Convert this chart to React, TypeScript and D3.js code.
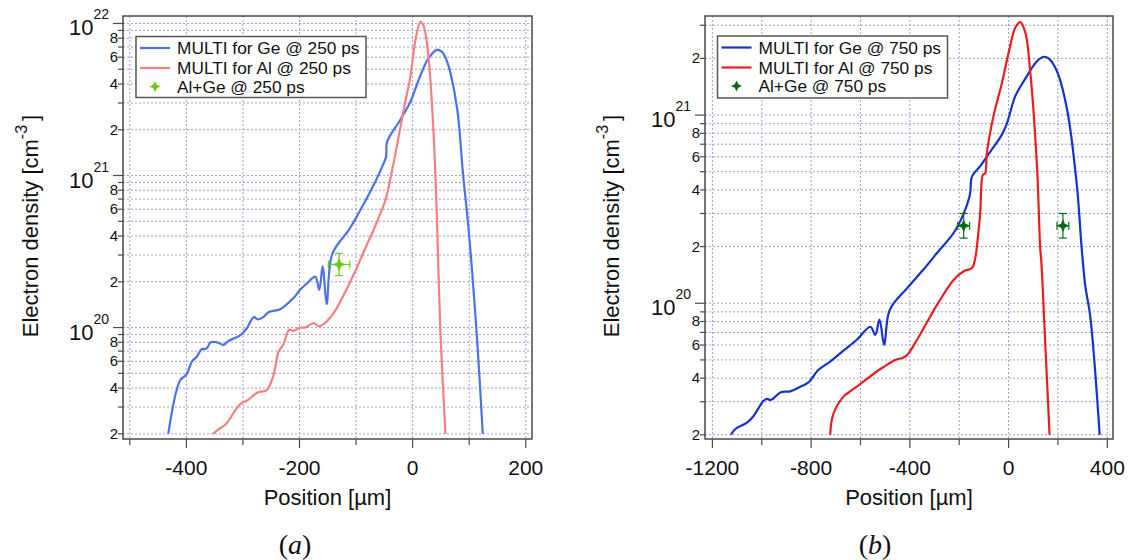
import React from "react";
import * as d3 from "d3";

// ---------- DATA ----------
// Panel (a) 250 ps
const geA_pos = [-432, -411, -400, -390, -382, -373, -364, -357, -346, -334, -326, -305, -293, -281, -273, -264, -255, -234, -211, -199, -187, -172, -165, -159, -152, -142, -113, -104, -81, -66, -54, -47, -45, -22, -4, 14, 28, 43, 52, 61, 67, 79, 89, 99, 114, 124];
const geA_ne = [2.0e19, 4.5e19, 4.9e19, 6.0e19, 6.4e19, 7.2e19, 7.3e19, 8.0e19, 8.0e19, 7.7e19, 8.15e19, 8.9e19, 9.9e19, 1.17e20, 1.13e20, 1.17e20, 1.26e20, 1.32e20, 1.56e20, 1.77e20, 1.95e20, 2.16e20, 1.77e20, 2.54e20, 1.43e20, 3.05e20, 4.37e20, 4.97e20, 7.1e20, 9.1e20, 1.14e21, 1.33e21, 1.67e21, 2.32e21, 3.06e21, 4.58e21, 5.9e21, 6.7e21, 6.5e21, 5.6e21, 4.7e21, 2.7e21, 1.03e21, 4.4e20, 8.3e19, 2.0e19];
const alA_pos = [-353, -343, -330, -305, -293, -275, -258, -246, -237, -229, -218, -211, -199, -190, -175, -166, -158, -140, -116, -98, -84, -69, -48, -40, -28, -16, -4, 5, 14, 20, 28, 37, 43, 49, 58];
const alA_ne = [2.0e19, 2.14e19, 2.32e19, 3.14e19, 3.3e19, 3.73e19, 3.88e19, 4.87e19, 6.93e19, 7.67e19, 9.7e19, 9.5e19, 1.0e20, 1.0e20, 1.07e20, 1.02e20, 1.05e20, 1.24e20, 1.81e20, 2.51e20, 3.3e20, 4.4e20, 6.9e20, 9.3e20, 1.55e21, 2.69e21, 4.47e21, 7.8e21, 1.03e22, 9.5e21, 6.0e21, 1.9e21, 5.1e20, 9.6e19, 2.0e19];
const expA_pos = [-130];
const expA_posErr = [19];
const expA_ne = [2.6e20];
const expA_neLow = [2.2e20];
const expA_neHigh = [3.08e20];

// Panel (b) 750 ps
const geB_pos = [-1125, -1108, -1060, -1034, -996, -982, -962, -923, -885, -844, -811, -770, -723, -669, -615, -560, -540, -523, -504, -482, -412, -345, -290, -215, -158, -148, -115, -74, -27, -6, 27, 61, 115, 142, 162, 196, 237, 277, 296, 311, 331, 369];
const geB_ne = [2.0e19, 2.14e19, 2.32e19, 2.51e19, 3.0e19, 3.1e19, 3.07e19, 3.37e19, 3.4e19, 3.6e19, 3.8e19, 4.43e19, 4.9e19, 5.6e19, 6.4e19, 7.5e19, 6.8e19, 8.2e19, 6.0e19, 9.2e19, 1.2e20, 1.51e20, 1.85e20, 2.45e20, 3.7e20, 4.72e20, 5.35e20, 6.4e20, 7.87e20, 9.1e20, 1.26e21, 1.51e21, 1.93e21, 2.04e21, 2.0e21, 1.71e21, 1.07e21, 4.18e20, 1.97e20, 1.23e20, 8.5e19, 2.0e19];
const alB_pos = [-723, -710, -669, -642, -601, -534, -507, -459, -418, -371, -290, -223, -182, -148, -135, -125, -115, -104, -95, -88, -61, -27, 0, 27, 47, 68, 88, 115, 128, 133, 146, 166];
const alB_ne = [2.0e19, 2.58e19, 3.19e19, 3.4e19, 3.72e19, 4.34e19, 4.58e19, 5.0e19, 5.2e19, 6.4e19, 9.8e19, 1.33e20, 1.48e20, 1.54e20, 1.74e20, 2.2e20, 3.02e20, 4.82e20, 4.9e20, 6.3e20, 9.9e20, 1.48e21, 2.14e21, 2.91e21, 3.12e21, 2.74e21, 1.68e21, 5.35e20, 1.97e20, 1.64e20, 7.2e19, 2.0e19];
const expB_pos = [-182, 220];
const expB_posErr = [24, 24];
const expB_ne = [2.58e20, 2.58e20];
const expB_neLow = [2.22e20, 2.22e20];
const expB_neHigh = [3.0e20, 3.0e20];

const legendA = ["MULTI for Ge @ 250 ps", "MULTI for Al @ 250 ps", "Al+Ge @ 250 ps"];
const legendB = ["MULTI for Ge @ 750 ps", "MULTI for Al @ 750 ps", "Al+Ge @ 750 ps"];
const xTicksA = d3.range(-500, 201, 100);
const xTicksB = d3.range(-1200, 401, 200);

const FONT = "'Liberation Sans', Arial, sans-serif";
const GRID = "#9c9ce0";
const AXIS = "#4a4a4a";

type Panel = {
  x0: number; x1: number; y0: number; y1: number;
  xDomain: [number, number]; yDomain: [number, number];
  xTicks: number[]; xLabelEvery: number;
  ge: [number[], number[]]; al: [number[], number[]];
  exp: { pos: number[]; err: number[]; ne: number[]; lo: number[]; hi: number[] };
  colors: [string, string, string];
  legend: string[]; legendBox: [number, number, number, number];
  yTitleX: number; label: string; labelX: number;
};

const starPath = (r: number, i: number) =>
  `M0,${-r}L${i},${-i}L${r},0L${i},${i}L0,${r}L${-i},${i}L${-r},0L${-i},${-i}Z`;

function PanelView({ p }: { p: Panel }) {
  const x = d3.scaleLinear().domain(p.xDomain).range([p.x0, p.x1]);
  const y = d3.scaleLog().domain(p.yDomain).range([p.y1, p.y0]);
  const yTicks: { v: number; m: number; e: number }[] = [];
  for (let e = 18; e <= 23; e++) {
    for (let m = 1; m <= 9; m++) {
      const v = m * Math.pow(10, e);
      if (v >= p.yDomain[0] && v <= p.yDomain[1]) yTicks.push({ v, m, e });
    }
  }
  const line = d3
    .line<[number, number]>()
    .x((d) => x(d[0]))
    .y((d) => y(d[1]))
    .curve(d3.curveCatmullRom.alpha(0.5));
  const pts = (s: [number[], number[]]) => s[0].map((v, i) => [v, s[1][i]] as [number, number]);
  const [lx, ly, lw, lh] = p.legendBox;
  const rows = [ly + 11.5, ly + 31.5, ly + 50];
  const cx = (p.x0 + p.x1) / 2;
  return (
    <g>
      {/* grid */}
      {p.xTicks.map((t) => (
        <line key={"gx" + t} x1={x(t)} x2={x(t)} y1={p.y0} y2={p.y1} stroke={GRID} strokeWidth={1} strokeDasharray="2,2" />
      ))}
      {yTicks.map((t) => (
        <line key={"gy" + t.v} x1={p.x0} x2={p.x1} y1={y(t.v)} y2={y(t.v)} stroke={GRID} strokeWidth={1} strokeDasharray="2,2" />
      ))}
      {/* frame */}
      <rect x={p.x0} y={p.y0} width={p.x1 - p.x0} height={p.y1 - p.y0} fill="none" stroke={AXIS} strokeWidth={1.5} />
      {/* x ticks */}
      {p.xTicks.map((t) => {
        const major = t % p.xLabelEvery === 0;
        return (
          <g key={"xt" + t}>
            <line x1={x(t)} x2={x(t)} y1={p.y1} y2={p.y1 + (major ? 9 : 6)} stroke={AXIS} strokeWidth={1.2} />
            {major && (
              <text x={x(t)} y={475} textAnchor="middle" fontFamily={FONT} fontSize={21} fill="#111">
                {t < 0 ? "-" + Math.abs(t) : String(t)}
              </text>
            )}
          </g>
        );
      })}
      {/* y ticks */}
      {yTicks.map((t) => {
        const yy = y(t.v);
        const major = t.m === 1;
        return (
          <g key={"yt" + t.v}>
            <line x1={p.x0} x2={p.x0 - (major ? 10 : 5)} y1={yy} y2={yy} stroke={AXIS} strokeWidth={1.2} />
            {major ? (
              <text x={p.x0 - 14} y={yy + 12} textAnchor="end" fontFamily={FONT} fontSize={22} fill="#111">
                10
                <tspan fontSize={14} dy={-16}>{String(t.e)}</tspan>
              </text>
            ) : t.m % 2 === 0 ? (
              <text x={p.x0 - 5} y={yy + 5} textAnchor="end" fontFamily={FONT} fontSize={15} fill="#111">
                {String(t.m)}
              </text>
            ) : null}
          </g>
        );
      })}
      {/* curves */}
      <path d={line(pts(p.ge)) || ""} fill="none" stroke={p.colors[0]} strokeWidth={2.2} strokeLinejoin="round" />
      <path d={line(pts(p.al)) || ""} fill="none" stroke={p.colors[1]} strokeWidth={2.2} strokeLinejoin="round" />
      {/* experimental points */}
      {p.exp.pos.map((v, i) => {
        const px = x(v), py = y(p.exp.ne[i]);
        const xl = x(v - p.exp.err[i]), xr = x(v + p.exp.err[i]);
        const yl = y(p.exp.lo[i]), yh = y(p.exp.hi[i]);
        const c = p.colors[2];
        return (
          <g key={"e" + i} stroke={c} strokeWidth={1.2}>
            <line x1={xl} x2={xr} y1={py} y2={py} />
            <line x1={xl} x2={xl} y1={py - 4} y2={py + 4} />
            <line x1={xr} x2={xr} y1={py - 4} y2={py + 4} />
            <line x1={px} x2={px} y1={yl} y2={yh} />
            <line x1={px - 4} x2={px + 4} y1={yl} y2={yl} />
            <line x1={px - 4} x2={px + 4} y1={yh} y2={yh} />
            <path d={starPath(6.5, 2)} transform={`translate(${px},${py})`} fill={c} stroke="none" />
          </g>
        );
      })}
      {/* legend */}
      <rect x={lx} y={ly} width={lw} height={lh} fill="white" stroke="#555" strokeWidth={1.5} />
      {[0, 1].map((k) => (
        <line key={"ll" + k} x1={lx + 4} x2={lx + 34} y1={rows[k]} y2={rows[k]} stroke={p.colors[k]} strokeWidth={2.2} />
      ))}
      <path d={starPath(5.5, 1.8)} transform={`translate(${lx + 19},${rows[2]})`} fill={p.colors[2]} />
      {p.legend.map((s, k) => (
        <text key={"lt" + k} x={lx + 41} y={rows[k] + 6} fontFamily={FONT} fontSize={17.3} fill="#111">{s}</text>
      ))}
      {/* axis titles */}
      <text transform={`translate(${p.yTitleX},226) rotate(-90)`} textAnchor="middle" fontFamily={FONT} fontSize={22} fill="#111">
        Electron density [cm
        <tspan fontSize={16} dy={-11}>-3</tspan>
        <tspan dy={11} dx={4}>]</tspan>
      </text>
      <text x={cx} y={505} textAnchor="middle" fontFamily={FONT} fontSize={22} fill="#111">Position [µm]</text>
      <text x={p.labelX} y={554} textAnchor="middle" fontFamily="'Liberation Serif', 'DejaVu Serif', serif" fontSize={28} fill="#111">
        (<tspan fontStyle="italic">{p.label}</tspan>)
      </text>
    </g>
  );
}

const panelA: Panel = {
  x0: 123, x1: 532, y0: 16, y1: 439,
  xDomain: [-512, 211], yDomain: [1.85e19, 1.12e22],
  xTicks: xTicksA, xLabelEvery: 200,
  ge: [geA_pos, geA_ne], al: [alA_pos, alA_ne],
  exp: { pos: expA_pos, err: expA_posErr, ne: expA_ne, lo: expA_neLow, hi: expA_neHigh },
  colors: ["#4a72e8", "#f47f80", "#66cc11"],
  legend: legendA, legendBox: [136, 36.5, 230, 61],
  yTitleX: 38, label: "a", labelX: 295,
};

const panelB: Panel = {
  x0: 705, x1: 1113, y0: 16, y1: 439,
  xDomain: [-1230, 423], yDomain: [1.9e19, 3.36e21],
  xTicks: xTicksB, xLabelEvery: 400,
  ge: [geB_pos, geB_ne], al: [alB_pos, alB_ne],
  exp: { pos: expB_pos, err: expB_posErr, ne: expB_ne, lo: expB_neLow, hi: expB_neHigh },
  colors: ["#1432cc", "#ec1c1c", "#0a6b14"],
  legend: legendB, legendBox: [717.5, 36, 230, 62],
  yTitleX: 619, label: "b", labelX: 875,
};

export default function App() {
  return (
    <svg width={1133} height={560} style={{ position: "absolute", left: 0, top: 0, background: "white" }}>
      <rect width={1133} height={560} fill="white" />
      <PanelView p={panelA} />
      <PanelView p={panelB} />
    </svg>
  );
}
